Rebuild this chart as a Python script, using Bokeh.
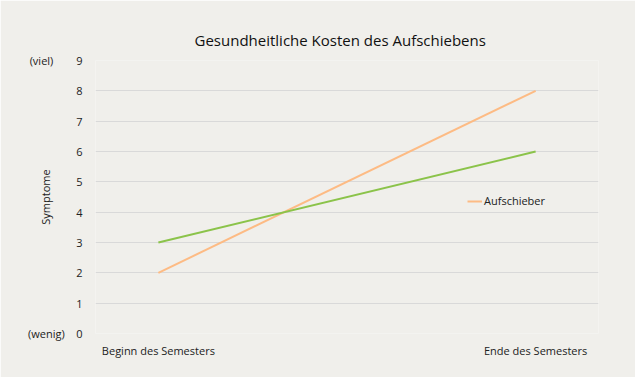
from bokeh.plotting import figure
from bokeh.models import Range1d, Legend, LegendItem, FixedTicker
from bokeh.embed import file_html
from bokeh.resources import INLINE

title = "Gesundheitliche Kosten des Aufschiebens"
categories = ["Beginn des Semesters", "Ende des Semesters"]
aufschieber = [2, 8]
nicht_aufschieber = [3, 6]
y_ticks = list(range(0, 10))
y_label = "Symptome"
top_note = "(viel)"
bottom_note = "(wenig)"

FONT = "Open Sans"
BG = "#f0efeb"
TXT = "#222222"
NB = "\u00a0"

xs = list(range(len(categories)))

p = figure(width=635, height=377, output_backend="svg", toolbar_location=None,
           x_range=Range1d(-1/6, len(categories) - 1 + 1/6), y_range=Range1d(0, 9),
           min_border_left=95, min_border_right=37, min_border_top=60, min_border_bottom=44,
           background_fill_color=BG, border_fill_color=BG, outline_line_color=None)

p.title.text = title
p.title.text_font = FONT
p.title.text_font_size = "15px"
p.title.text_font_style = "normal"
p.title.text_color = "#111111"
p.title.align = "left"
p.title.offset = 99
p.title.standoff = 21

p.xaxis.ticker = FixedTicker(ticks=xs)
p.xaxis.major_label_overrides = {i: c for i, c in enumerate(categories)}
p.yaxis.ticker = FixedTicker(ticks=y_ticks)
p.yaxis.major_label_overrides = {
    y_ticks[-1]: top_note + NB * 8 + str(y_ticks[-1]),
    y_ticks[0]: bottom_note + NB * 4 + str(y_ticks[0]),
}
for ax in (p.xaxis[0], p.yaxis[0]):
    ax.axis_line_color = None
    ax.major_tick_line_color = None
    ax.minor_tick_line_color = None
    ax.major_label_text_font = FONT
    ax.major_label_text_font_size = "11px"
    ax.major_label_text_color = TXT
p.xaxis.major_label_standoff = 3
p.yaxis.major_label_standoff = 7
p.yaxis.axis_label = y_label
p.yaxis.axis_label_text_font = FONT
p.yaxis.axis_label_text_font_size = "11px"
p.yaxis.axis_label_text_font_style = "normal"
p.yaxis.axis_label_text_color = TXT
p.yaxis.axis_label_standoff = -28

p.xgrid.grid_line_color = None
p.ygrid.grid_line_color = "#d9d9d9"
p.ygrid.ticker = FixedTicker(ticks=y_ticks)

r1 = p.line(xs, aufschieber, line_color="#fdbb84", line_width=2)
r2 = p.line(xs, nicht_aufschieber, line_color="#8bc34a", line_width=2)

legend = Legend(items=[LegendItem(label="Aufschieber", renderers=[r1])],
                location=(372, 125), background_fill_alpha=0, border_line_color=None,
                label_text_font=FONT, label_text_font_size="11px", label_text_color=TXT,
                glyph_width=15, glyph_height=12, label_standoff=2, padding=0, margin=0,
                spacing=0, label_height=14)
p.add_layout(legend, "center")

open("out.html", "w").write(file_html(p, INLINE))
